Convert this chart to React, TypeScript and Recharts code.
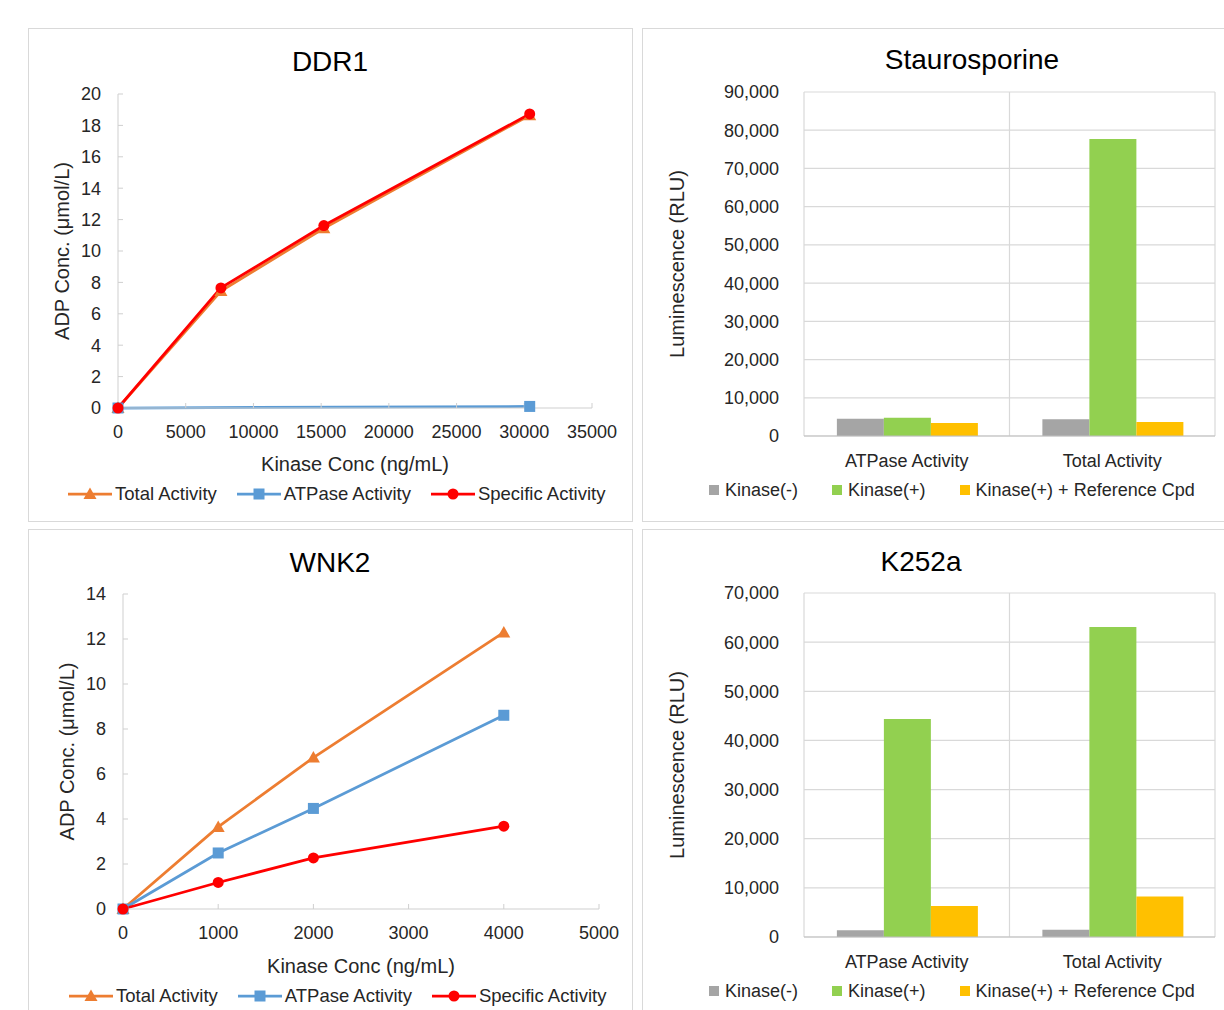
import React from 'react';
import { LineChart, Line, BarChart, Bar, XAxis, YAxis, CartesianGrid } from 'recharts';

const FONT = '"Liberation Sans", Arial, sans-serif';
const TEXT = '#262626';
const AXIS = '#cfcfcf';
const GRID = '#d9d9d9';

const ORANGE = '#ed7d31';
const BLUE = '#5b9bd5';
const RED = '#ff0000';
const GRAY = '#a5a5a5';
const GREEN = '#92d050';
const YELLOW = '#ffc000';

// DDR1 (ADP umol/L vs kinase ng/mL)
const ddr1Conc = [0, 7600, 15200, 30400];
const ddr1Total = [0, 7.45, 11.45, 18.65];
const ddr1Atpase = [0, null, null, 0.1];
const ddr1Specific = [0, 7.65, 11.62, 18.73];
const ddr1XTicks = [0, 5000, 10000, 15000, 20000, 25000, 30000, 35000];
const ddr1YTicks = [0, 2, 4, 6, 8, 10, 12, 14, 16, 18, 20];

// WNK2
const wnk2Conc = [0, 1000, 2000, 4000];
const wnk2Total = [0, 3.65, 6.73, 12.29];
const wnk2Atpase = [0, 2.49, 4.47, 8.61];
const wnk2Specific = [0, 1.18, 2.27, 3.68];
const wnk2XTicks = [0, 1000, 2000, 3000, 4000, 5000];
const wnk2YTicks = [0, 2, 4, 6, 8, 10, 12, 14];

// luminescence bars
const barCategories = ['ATPase Activity', 'Total Activity'];
const stauroKinaseMinus = [4500, 4350];
const stauroKinasePlus = [4800, 77700];
const stauroRefCpd = [3400, 3650];
const stauroYTicks = [0, 10000, 20000, 30000, 40000, 50000, 60000, 70000, 80000, 90000];
const k252aKinaseMinus = [1350, 1500];
const k252aKinasePlus = [44350, 63100];
const k252aRefCpd = [6300, 8250];
const k252aYTicks = [0, 10000, 20000, 30000, 40000, 50000, 60000, 70000];

const lineSeries = [
  { key: 'total', name: 'Total Activity', color: ORANGE, shape: 'triangle' },
  { key: 'atpase', name: 'ATPase Activity', color: BLUE, shape: 'square' },
  { key: 'specific', name: 'Specific Activity', color: RED, shape: 'circle' },
];

const barSeries = [
  { key: 'kinMinus', name: 'Kinase(-)', color: GRAY },
  { key: 'kinPlus', name: 'Kinase(+)', color: GREEN },
  { key: 'kinRefCpd', name: 'Kinase(+) + Reference Cpd', color: YELLOW },
];

function marker(shape: string, color: string, cx: number, cy: number) {
  if (shape === 'triangle')
    return <path d={`M${cx},${cy - 6.5}L${cx + 6.5},${cy + 5}L${cx - 6.5},${cy + 5}Z`} fill={color} />;
  if (shape === 'square')
    return <rect x={cx - 5.5} y={cy - 5.5} width={11} height={11} fill={color} />;
  return <circle cx={cx} cy={cy} r={5.5} fill={color} />;
}

const makeDot = (shape: string, color: string) => (props: any) => {
  const { cx, cy, index, value } = props;
  const k = `${shape}-${index}`;
  if (cx == null || cy == null || value == null) return <g key={k} />;
  return <g key={k}>{marker(shape, color, cx, cy)}</g>;
};

function LineLegend({ left, top }: any) {
  return (
    <div style={{ position: 'absolute', left, top, display: 'flex', alignItems: 'center', height: 30, fontSize: 18.5, color: TEXT, whiteSpace: 'nowrap' }}>
      {lineSeries.map((s) => (
        <div key={s.key} style={{ display: 'flex', alignItems: 'center', marginRight: 20 }}>
          <svg width={44} height={16}>
            <line x1={0} y1={8} x2={44} y2={8} stroke={s.color} strokeWidth={2.75} />
            {marker(s.shape, s.color, 22, 8)}
          </svg>
          <span style={{ marginLeft: 3 }}>{s.name}</span>
        </div>
      ))}
    </div>
  );
}

function BarLegend({ left, top }: any) {
  return (
    <div style={{ position: 'absolute', left, top, display: 'flex', alignItems: 'center', height: 30, fontSize: 18, color: TEXT, whiteSpace: 'nowrap' }}>
      {barSeries.map((s) => (
        <div key={s.key} style={{ display: 'flex', alignItems: 'center', marginRight: 34 }}>
          <span style={{ width: 10, height: 10, background: s.color, display: 'inline-block' }} />
          <span style={{ marginLeft: 6 }}>{s.name}</span>
        </div>
      ))}
    </div>
  );
}

function Panel({ left, top, width, height, title, titleX, titleY, children }: any) {
  return (
    <div style={{ position: 'absolute', left, top, width, height }}>
      <div style={{ position: 'absolute', left: 0, top: 0, width, height, border: `1px solid ${GRID}`, boxSizing: 'border-box' }} />
      <div style={{ position: 'absolute', left: titleX - 200, top: titleY - 16, width: 400, lineHeight: '32px', textAlign: 'center', fontSize: 28, color: '#000' }}>
        {title}
      </div>
      <div style={{ position: 'absolute', left: 0, top: 0 }}>{children}</div>
    </div>
  );
}

function ActivityChart({ conc, total, atpase, specific, xTicks, yTicks, margin, xAxisHeight }: any) {
  const data = conc.map((c: number, i: number) => ({ conc: c, total: total[i], atpase: atpase[i], specific: specific[i] }));
  return (
    <LineChart width={605} height={494} data={data} margin={margin}>
      <XAxis
        dataKey="conc"
        type="number"
        domain={[xTicks[0], xTicks[xTicks.length - 1]]}
        ticks={xTicks}
        height={xAxisHeight}
        stroke={AXIS}
        tickSize={-5}
        tickMargin={22}
        tick={{ fill: TEXT, fontSize: 18 }}
        label={{ value: 'Kinase Conc (ng/mL)', position: 'insideBottom', offset: 8, fill: TEXT, fontSize: 20 }}
      />
      <YAxis
        type="number"
        domain={[yTicks[0], yTicks[yTicks.length - 1]]}
        ticks={yTicks}
        width={60}
        stroke={AXIS}
        tickSize={-5}
        tickMargin={22}
        tick={{ fill: TEXT, fontSize: 18 }}
        label={{ value: 'ADP Conc. (μmol/L)', angle: -90, position: 'insideLeft', offset: 4, fill: TEXT, fontSize: 20, style: { textAnchor: 'middle' } }}
      />
      {lineSeries.map((s) => (
        <Line
          key={s.key}
          dataKey={s.key}
          name={s.name}
          type="linear"
          stroke={s.color}
          strokeWidth={2.75}
          connectNulls
          dot={makeDot(s.shape, s.color)}
          activeDot={false}
          isAnimationActive={false}
        />
      ))}
    </LineChart>
  );
}

function LumChart({ minus, plus, refCpd, yTicks }: any) {
  const data = barCategories.map((c, i) => ({ name: c, kinMinus: minus[i], kinPlus: plus[i], kinRefCpd: refCpd[i] }));
  const margin = { top: 64, right: 27, bottom: 47, left: 32 };
  return (
    <BarChart width={600} height={494} data={data} margin={margin} barCategoryGap="16%" barGap={0}>
      <CartesianGrid
        stroke={GRID}
        strokeWidth={1.2}
        verticalCoordinatesGenerator={({ offset }: any) => [offset.left, offset.left + offset.width / 2, offset.left + offset.width]}
      />
      <XAxis
        dataKey="name"
        height={39}
        stroke="#bfbfbf"
        tickLine={false}
        tickSize={0}
        tickMargin={18}
        tick={{ fill: TEXT, fontSize: 18 }}
      />
      <YAxis
        domain={[yTicks[0], yTicks[yTicks.length - 1]]}
        ticks={yTicks}
        width={130}
        axisLine={false}
        tickLine={false}
        tickSize={0}
        tickMargin={25}
        tick={{ fill: TEXT, fontSize: 18 }}
        tickFormatter={(v: number) => v.toLocaleString('en-US')}
        label={{ value: 'Luminescence (RLU)', angle: -90, position: 'insideLeft', offset: 3, fill: TEXT, fontSize: 20, style: { textAnchor: 'middle' } }}
      />
      {barSeries.map((s) => (
        <Bar key={s.key} dataKey={s.key} name={s.name} fill={s.color} isAnimationActive={false} />
      ))}
    </BarChart>
  );
}

export default function App() {
  return (
    <div style={{ position: 'fixed', left: 0, top: 0, width: 1224, height: 1010, overflow: 'hidden', background: '#fff', fontFamily: FONT }}>
      <Panel left={28} top={28} width={605} height={494} title="DDR1" titleX={302} titleY={34}>
        <ActivityChart
          conc={ddr1Conc}
          total={ddr1Total}
          atpase={ddr1Atpase}
          specific={ddr1Specific}
          xTicks={ddr1XTicks}
          yTicks={ddr1YTicks}
          margin={{ top: 66, right: 41, bottom: 43, left: 30 }}
          xAxisHeight={71}
        />
        <LineLegend left={40} top={451} />
      </Panel>
      <Panel left={642} top={28} width={600} height={494} title="Staurosporine" titleX={330} titleY={32}>
        <LumChart minus={stauroKinaseMinus} plus={stauroKinasePlus} refCpd={stauroRefCpd} yTicks={stauroYTicks} />
        <BarLegend left={67} top={447} />
      </Panel>
      <Panel left={28} top={529} width={605} height={494} title="WNK2" titleX={302} titleY={34}>
        <ActivityChart
          conc={wnk2Conc}
          total={wnk2Total}
          atpase={wnk2Atpase}
          specific={wnk2Specific}
          xTicks={wnk2XTicks}
          yTicks={wnk2YTicks}
          margin={{ top: 65, right: 34, bottom: 42, left: 35 }}
          xAxisHeight={72}
        />
        <LineLegend left={41} top={452} />
      </Panel>
      <Panel left={642} top={529} width={600} height={494} title="K252a" titleX={279} titleY={33}>
        <LumChart minus={k252aKinaseMinus} plus={k252aKinasePlus} refCpd={k252aRefCpd} yTicks={k252aYTicks} />
        <BarLegend left={67} top={447} />
      </Panel>
    </div>
  );
}
